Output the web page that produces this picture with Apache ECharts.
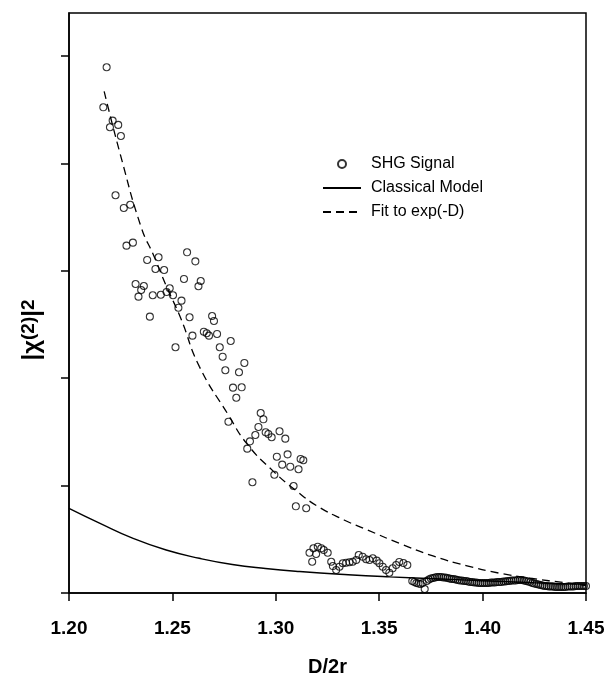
<!DOCTYPE html>
<html>
<head>
<meta charset="utf-8">
<script src="https://cdn.jsdelivr.net/npm/echarts@6/dist/echarts.min.js"></script>
<style>
html,body{margin:0;padding:0;background:#fff;}
#chart{width:608px;height:673px;}
</style>
</head>
<body>
<div id="chart"></div>
<script>
// ---- Data ----
const xTickLabels = ['1.20', '1.25', '1.30', '1.35', '1.40', '1.45'];
const yTickValues = [0, 1, 2, 3, 4, 5];

// SHG Signal: [D/2r, |chi(2)|^2] (arbitrary units, one tick = 1)
const shgSignal = [
  [1.2182,4.895],[1.2166,4.522],[1.2211,4.398],[1.2198,4.336],[1.2238,4.358],[1.2251,4.255],
  [1.2225,3.703],[1.2265,3.585],[1.2296,3.615],[1.2278,3.234],[1.2309,3.262],[1.2378,3.101],
  [1.2433,3.126],[1.2418,3.017],[1.2460,3.007],[1.2571,3.172],[1.2611,3.088],[1.2322,2.877],
  [1.2362,2.858],[1.2349,2.821],[1.2336,2.759],[1.2405,2.772],[1.2444,2.777],[1.2472,2.803],
  [1.2487,2.837],[1.2503,2.772],[1.2544,2.722],[1.2529,2.656],[1.2556,2.924],[1.2637,2.905],
  [1.2626,2.856],[1.2391,2.573],[1.2583,2.567],[1.2692,2.579],[1.2701,2.533],[1.2652,2.433],
  [1.2666,2.418],[1.2677,2.396],[1.2716,2.412],[1.2597,2.396],[1.2782,2.346],[1.2515,2.288],
  [1.2729,2.288],[1.2743,2.200],[1.2848,2.142],[1.2756,2.074],[1.2822,2.055],[1.2793,1.912],
  [1.2835,1.915],[1.2809,1.818],[1.2927,1.676],[1.2940,1.617],[1.2771,1.595],[1.2916,1.546],
  [1.2951,1.496],[1.2964,1.480],[1.2980,1.450],[1.3018,1.506],[1.3046,1.437],[1.2901,1.471],
  [1.2875,1.412],[1.2862,1.344],[1.3005,1.269],[1.3057,1.291],[1.3120,1.248],[1.3133,1.236],
  [1.3031,1.195],[1.3070,1.176],[1.3110,1.152],[1.2993,1.101],[1.3086,0.996],[1.2887,1.031],
  [1.3097,0.807],[1.3147,0.789],
  [1.3163,0.375],[1.3182,0.416],[1.3203,0.431],[1.3220,0.416],[1.3232,0.400],[1.3251,0.375],
  [1.3176,0.291],[1.3195,0.363],[1.3268,0.291],[1.3276,0.251],[1.3292,0.214],[1.3308,0.245],
  [1.3324,0.277],[1.3340,0.282],[1.3356,0.286],[1.3372,0.291],[1.3389,0.307],[1.3401,0.354],
  [1.3420,0.338],[1.3437,0.314],[1.3453,0.307],[1.3469,0.323],[1.3488,0.301],[1.3501,0.277],
  [1.3517,0.245],[1.3533,0.214],[1.3549,0.189],[1.3565,0.230],[1.3582,0.261],[1.3597,0.289],
  [1.3617,0.279],[1.3636,0.261],
  [1.366,0.112],[1.367,0.102],[1.368,0.093],[1.369,0.088],[1.370,0.084],[1.371,0.093],
  [1.372,0.037],[1.373,0.112],[1.374,0.126],[1.375,0.135],[1.376,0.140],[1.377,0.144],
  [1.378,0.149],[1.379,0.149],[1.380,0.149],[1.381,0.144],[1.382,0.144],[1.383,0.140],
  [1.384,0.135],[1.385,0.130],[1.386,0.130],[1.387,0.126],[1.388,0.121],[1.389,0.116],
  [1.390,0.116],[1.391,0.112],[1.392,0.112],[1.393,0.107],[1.394,0.102],[1.395,0.102],
  [1.396,0.098],[1.397,0.098],[1.398,0.093],[1.399,0.093],[1.400,0.093],[1.401,0.093],
  [1.402,0.093],[1.403,0.093],[1.404,0.098],[1.405,0.098],[1.406,0.098],[1.407,0.102],
  [1.408,0.102],[1.409,0.102],[1.410,0.107],[1.411,0.107],[1.412,0.112],[1.413,0.112],
  [1.414,0.116],[1.415,0.116],[1.416,0.116],[1.417,0.121],[1.418,0.121],[1.419,0.121],
  [1.420,0.116],[1.421,0.112],[1.422,0.107],[1.423,0.102],[1.424,0.093],[1.425,0.088],
  [1.426,0.084],[1.427,0.079],[1.428,0.074],[1.429,0.070],[1.430,0.065],[1.431,0.065],
  [1.432,0.061],[1.433,0.061],[1.434,0.061],[1.435,0.056],[1.436,0.056],[1.437,0.056],
  [1.438,0.056],[1.439,0.056],[1.440,0.056],[1.441,0.061],[1.442,0.061],[1.443,0.061],
  [1.444,0.061],[1.445,0.065],[1.446,0.065],[1.447,0.065],[1.448,0.065],[1.449,0.065],
  [1.450,0.065]
];

// Classical Model (solid line)
const classicalX = [1.200, 1.215, 1.231, 1.247, 1.263, 1.279, 1.295, 1.3115, 1.335, 1.355, 1.380, 1.400, 1.425, 1.450];
const classicalY = [0.789, 0.649, 0.509, 0.400, 0.323, 0.265, 0.228, 0.200, 0.170, 0.150, 0.130, 0.114, 0.096, 0.080];

// Fit to exp(-D) (dashed line)
const fitX = [1.217, 1.225, 1.235, 1.241, 1.247, 1.254, 1.263, 1.277, 1.286, 1.299, 1.310, 1.320, 1.333, 1.344, 1.360, 1.376, 1.392, 1.408, 1.424, 1.440, 1.450];
const fitY = [4.67, 4.07, 3.40, 3.14, 2.86, 2.56, 2.11, 1.66, 1.39, 1.13, 0.95, 0.81, 0.68, 0.59, 0.46, 0.345, 0.255, 0.185, 0.135, 0.095, 0.07];

// ---- Chart ----
const chart = echarts.init(document.getElementById('chart'), null, {renderer: 'canvas'});
const FONT = '"Liberation Sans", Arial, sans-serif';
const hiddenSymbol = {color: 'rgba(0,0,0,0)', borderColor: 'rgba(0,0,0,0)', borderWidth: 0};

const option = {
  animation: false,
  backgroundColor: '#fff',
  grid: {
    left: 69, right: 22, top: 13, bottom: 80,
    outerBoundsMode: 'none', containLabel: false,
    show: true, borderColor: '#000', borderWidth: 1.5, backgroundColor: 'transparent'
  },
  legend: {
    orient: 'vertical',
    left: 317, top: 151,
    itemWidth: 38, itemHeight: 8, itemGap: 8,
    textStyle: {fontFamily: FONT, fontSize: 16, color: '#000', padding: [0, 0, 0, 5]},
    data: [
      {name: 'SHG Signal'},
      {name: 'Classical Model', itemStyle: hiddenSymbol},
      {name: 'Fit to exp(-D)', itemStyle: hiddenSymbol}
    ]
  },
  xAxis: {
    type: 'value', min: 1.20, max: 1.45, interval: 0.05,
    name: 'D/2r', nameLocation: 'middle', nameGap: 64,
    nameTextStyle: {fontFamily: FONT, fontSize: 20, fontWeight: 'bold', color: '#000'},
    axisLine: {show: true, lineStyle: {color: '#000', width: 1.5}},
    axisTick: {show: true, inside: false, length: 8, lineStyle: {color: '#000', width: 1.5}},
    axisLabel: {
      margin: 26, fontFamily: FONT, fontSize: 19, fontWeight: 'bold', color: '#000',
      formatter: function (v) { const i = Math.round((v - 1.20) / 0.05); return xTickLabels[i] !== undefined ? xTickLabels[i] : ''; }
    },
    splitLine: {show: false}
  },
  yAxis: {
    type: 'value', min: 0, max: 5.4, interval: 1,
    axisLine: {show: true, lineStyle: {color: '#000', width: 1.5}},
    axisTick: {show: true, inside: false, length: 8, customValues: yTickValues, lineStyle: {color: '#000', width: 1.5}},
    axisLabel: {show: false},
    splitLine: {show: false}
  },
  graphic: [{
    type: 'text',
    x: 32, y: 330,
    rotation: Math.PI / 2,
    style: {
      text: '|χ{sup|(2)}|{sup|2}',
      fontFamily: FONT, fontSize: 24, fontWeight: 'bold', fill: '#000',
      align: 'center', verticalAlign: 'middle',
      rich: {
        sup: {fontFamily: FONT, fontSize: 19, fontWeight: 'bold', verticalAlign: 'top', padding: [0, 0, 7, 0]}
      }
    }
  }],
  series: [
    {
      name: 'SHG Signal', type: 'scatter',
      symbol: 'circle', symbolSize: 7,
      itemStyle: {color: 'rgba(255,255,255,0)', borderColor: '#000', borderWidth: 1.1},
      data: shgSignal, z: 3
    },
    {
      name: 'Classical Model', type: 'line', smooth: true, symbol: 'none',
      lineStyle: {color: '#000', width: 1.4, type: 'solid'},
      itemStyle: {color: '#000'},
      data: classicalX.map((x, i) => [x, classicalY[i]]), z: 2
    },
    {
      name: 'Fit to exp(-D)', type: 'line', smooth: true, symbol: 'none',
      lineStyle: {color: '#000', width: 1.3, type: [8, 5]},
      itemStyle: {color: '#000'},
      data: fitX.map((x, i) => [x, fitY[i]]), z: 2
    }
  ]
};
chart.setOption(option);
</script>
</body>
</html>
